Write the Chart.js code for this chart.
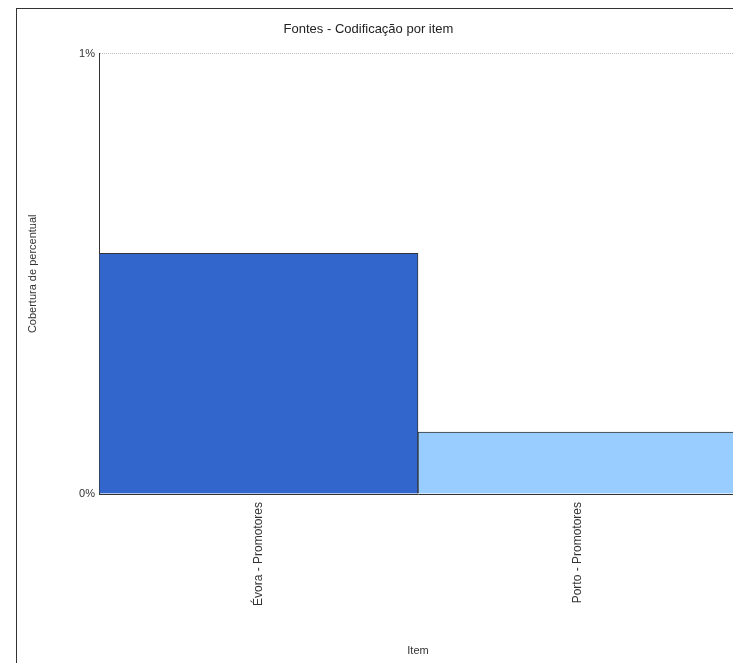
<!DOCTYPE html>
<html>
<head>
<meta charset="utf-8">
<script src="https://cdn.jsdelivr.net/npm/chart.js@4.4.0/dist/chart.umd.min.js"></script>
<style>
  html, body { margin: 0; padding: 0; background: #fff; overflow: hidden; }
  #wrap { position: absolute; left: 0; top: 0; width: 741px; height: 663px; }
</style>
</head>
<body>
<div id="wrap"><canvas id="c" width="741" height="663"></canvas></div>
<script>
const categories = ["Évora - Promotores", "Porto - Promotores"];
const coverage = [0.5466, 0.1406];
const barColors = ["#3366CC", "#99CCFF"];
const yTicks = [0, 1];

const frame = {
  id: 'frame',
  beforeDraw(chart) {
    const ctx = chart.ctx;
    ctx.save();
    ctx.fillStyle = '#fff';
    ctx.fillRect(0, 0, chart.width, chart.height);
    ctx.strokeStyle = '#333';
    ctx.lineWidth = 1;
    ctx.strokeRect(16.5, 8.5, 900, 900);
    ctx.restore();
  }
};

new Chart(document.getElementById('c'), {
  type: 'bar',
  data: {
    labels: categories,
    datasets: [{
      data: coverage,
      backgroundColor: barColors,
      borderColor: '#333',
      borderWidth: 1,
      barPercentage: 1,
      categoryPercentage: 1
    }]
  },
  options: {
    responsive: false,
    animation: false,
    layout: { padding: { left: 0, right: 4, top: 8, bottom: 0 } },
    plugins: {
      legend: { display: false },
      tooltip: { enabled: false },
      title: {
        display: true,
        text: 'Fontes - Codificação por item',
        color: '#222',
        font: { family: 'Liberation Sans', size: 13, weight: 'normal' },
        padding: { top: 14, bottom: 16 }
      }
    },
    scales: {
      x: {
        offset: true,
        grid: { display: false },
        border: { color: '#333' },
        ticks: {
          color: '#333',
          font: { family: 'Liberation Sans', size: 12 },
          maxRotation: 90, minRotation: 90, padding: 0
        },
        title: {
          display: true, text: 'Item', color: '#333',
          font: { family: 'Liberation Sans', size: 11 },
          padding: { top: 0, bottom: 5 }
        },
        afterFit(scale) { scale.height = 663 - 494; }
      },
      y: {
        min: 0, max: 1,
        afterBuildTicks(scale) { scale.ticks = yTicks.map(v => ({ value: v })); },
        grid: {
          color: ctx => ctx.tick && ctx.tick.value === 0 ? 'rgba(0,0,0,0)' : '#bbb',
          tickLength: 0,
          drawTicks: false
        },
        border: { color: '#333', dash: [1, 1] },
        ticks: {
          color: '#333',
          font: { family: 'Liberation Sans', size: 11 },
          padding: 4,
          callback: v => v + '%'
        },
        title: {
          display: true, text: 'Cobertura de percentual', color: '#333',
          font: { family: 'Liberation Sans', size: 11 },
          padding: { top: 26, bottom: 0 }
        },
        afterFit(scale) { scale.width = 99; }
      }
    }
  },
  plugins: [frame]
});
</script>
</body>
</html>
